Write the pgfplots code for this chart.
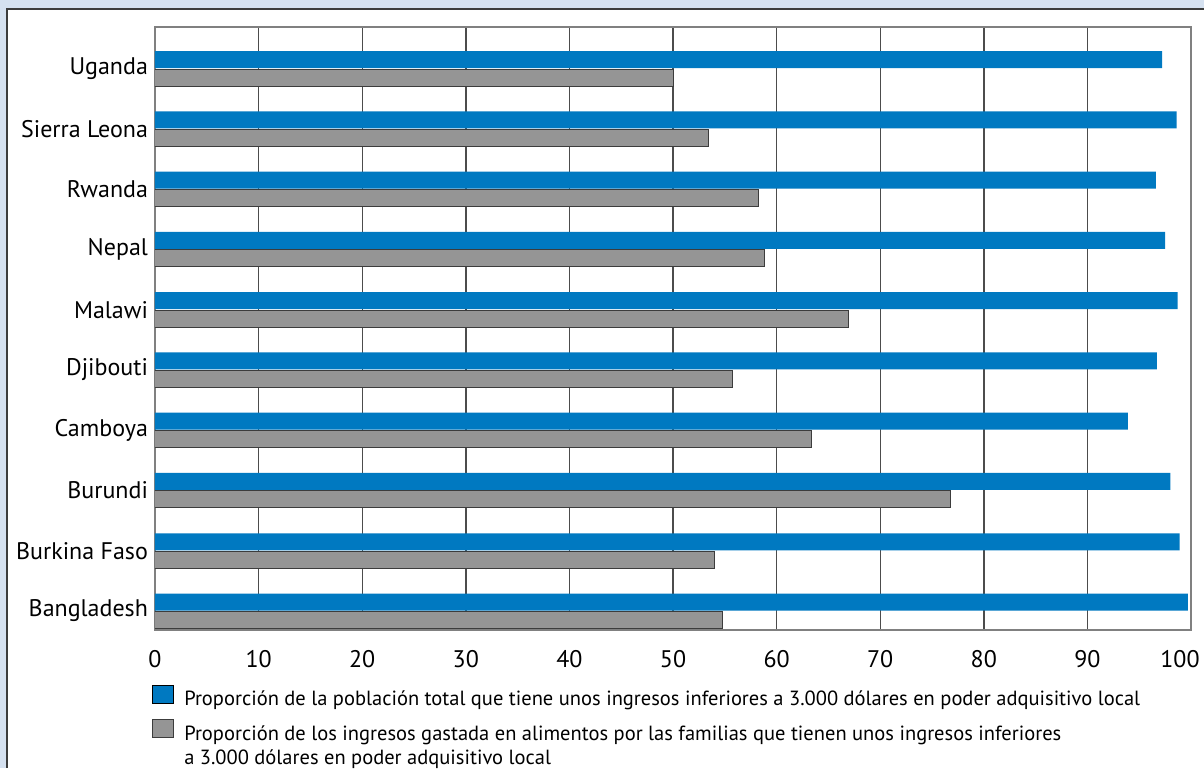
\documentclass[border=0pt]{standalone}
\usepackage{pgfplots}
\pgfplotsset{compat=1.18}
\usepackage{fontspec}
\setmainfont{PT Sans}
\definecolor{fondo}{HTML}{D5E1F0}
\definecolor{azul}{HTML}{0079C1}
\definecolor{gris}{HTML}{959595}
\definecolor{borde}{HTML}{3C3C3C}

\begin{document}
\begin{tikzpicture}[x=1pt,y=1pt]
\useasboundingbox (0,0) rectangle (602,384);
\fill[fondo] (0,0) rectangle (602,384);
\fill[white] (3.5,0) rectangle (602,379.25);
\draw[borde, line width=1pt] (3.5,0) -- (3.5,379.25) -- (602,379.25);
\begin{axis}[
  at={(77.5pt,69pt)}, anchor=south west,
  scale only axis, width=518pt, height=301.5pt,
  xbar, bar width=8.5pt,
  xmin=0, xmax=100, ymin=-0.315, ymax=9.69,
  xtick={0,10,...,100},
  xticklabels={0,10,20,30,40,50,60,70,80,90,\makebox[0pt][c]{\kern-11pt 100}},
  ytick={0,...,9},
  yticklabels={Bangladesh, Burkina Faso, Burundi, Camboya, Djibouti,
    Malawi, Nepal, Rwanda, Sierra Leona, Uganda},
  xmajorgrids,
  major grid style={black!70, line width=0.7pt},
  major tick length=0pt,
  axis line style={black!50, line width=0.8pt},
  tick label style={font=\fontsize{12}{14}\selectfont},
  /pgf/number format/assume math mode=true,
  xticklabel style={yshift=-6.5pt},
  legend image code/.code={\draw[#1] (0pt,-1.5pt) rectangle (10.5pt,7.5pt);},
  legend style={at={(axis description cs:-0.003,-0.09)}, anchor=north west,
    draw=none, fill=none, inner sep=0pt, row sep=3pt, column sep=3pt,
    font=\fontsize{10.25}{12}\selectfont},
  legend cell align=left,
]
% poblacion bajo 3.000 dolares
\addplot[fill=azul, draw=none, bar shift=4.5pt] coordinates {
  (99.7,0) (98.9,1) (98.0,2) (93.9,3) (96.7,4)
  (98.7,5) (97.5,6) (96.6,7) (98.6,8) (97.2,9)
};
% gasto en alimentos
\addplot[fill=gris, draw=borde, line width=0.5pt, bar shift=-4.5pt] coordinates {
  (54.8,0) (54.0,1) (76.8,2) (63.4,3) (55.7,4)
  (66.9,5) (58.8,6) (58.3,7) (53.4,8) (50.0,9)
};
\legend{Proporción de la población total que tiene unos ingresos inferiores a 3.000 dólares en poder adquisitivo local,
  \parbox[t]{480pt}{Proporción de los ingresos gastada en alimentos por las familias que tienen unos ingresos inferiores\\a 3.000 dólares en poder adquisitivo local}}
\end{axis}
\end{tikzpicture}
\end{document}
